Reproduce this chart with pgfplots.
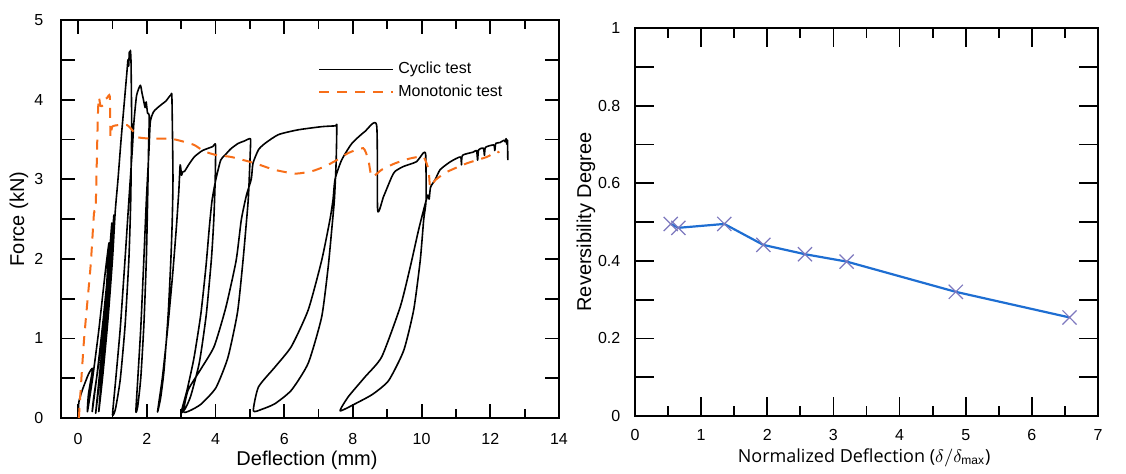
\documentclass[border=0pt]{standalone}
\usepackage{fontspec}
\setmainfont{Liberation Sans}
\newfontfamily\labelfont{Open Sans}
\usepackage{pgfplots}
\pgfplotsset{compat=1.18}
\definecolor{mono}{RGB}{247,110,25}
\definecolor{revline}{RGB}{30,110,210}
\definecolor{revmark}{RGB}{125,120,190}

\begin{document}
\begin{tikzpicture}
\useasboundingbox (0,0) rectangle (563pt,236.5pt);

% left: force vs deflection
\begin{axis}[
    at={(30.5pt,27.5pt)}, anchor=south west,
    scale only axis, width=249pt, height=199pt,
    xmin=-0.5, xmax=14, ymin=0, ymax=5,
    xtick={0,2,...,14}, minor x tick num=1,
    ytick={0,0.5,1,1.5,2,2.5,3,3.5,4,4.5,5},
    yticklabels={0,,1,,2,,3,,4,,5},
    major tick length=7pt, minor tick length=4.5pt,
    axis line style={line width=1pt},
    tick style={line width=0.9pt, black},
    /pgf/number format/assume math mode=true,
    ticklabel style={font=\fontsize{8}{9.6}\selectfont},
    xticklabel style={yshift=-4.3pt},
    yticklabel style={xshift=-5.3pt},
    xlabel={Deflection (mm)}, ylabel={Force (kN)},
    label style={font=\labelfont\fontsize{9.5}{11}\selectfont},
    every axis x label/.style={at={(axis description cs:0.494,-0.1055)}, anchor=center},
    every axis y label/.style={at={(axis description cs:-0.0843,0.5)}, rotate=90, anchor=center},
    legend style={draw=none, fill=none, at={(axis description cs:0.516,0.905)}, anchor=north west,
        font=\fontsize{8}{9.6}\selectfont, row sep=0pt, inner sep=0pt},
    legend cell align=left,
    legend image code/.code={\draw[#1] (0pt,0pt) -- (37pt,0pt);},
]
\addplot[black, line width=0.8pt, line join=round, smooth, tension=0.35] coordinates {
(0.0,0.0)(0.02,0.2)(0.12,0.35)(0.3,0.55)(0.42,0.62)(0.3,0.3)(0.27,0.08)
(0.42,0.5)(0.6,1.1)(0.78,1.8)(0.9,2.2)(0.8,1.5)(0.6,0.7)(0.45,0.25)(0.41,0.08)
(0.55,0.55)(0.72,1.2)(0.88,1.9)(0.98,2.45)(0.9,1.9)(0.75,1.1)(0.6,0.45)(0.51,0.06)
(0.63,0.5)(0.78,1.15)(0.93,1.9)(1.04,2.55)(0.97,2.0)(0.82,1.2)(0.68,0.5)(0.6,0.08)
(0.72,0.55)(0.87,1.25)(1.0,2.0)(1.08,2.6)(1.16,3.0)(1.25,3.5)(1.35,4.0)(1.42,4.35)
(1.45,4.5)(1.47,4.42)(1.49,4.6)(1.51,4.5)(1.52,4.62)(1.54,4.45)(1.56,3.62)
(1.55,3.4)(1.53,2.73)(1.476,1.99)(1.364,1.15)(1.224,0.48)(1.084,0.11)(1.0,0.04)
(1.084,0.44)(1.224,1.12)(1.364,1.99)(1.476,2.73)(1.58,3.4)(1.62,3.7)(1.7,4.05)
(1.81,4.18)(1.86,4.08)(1.9,4.0)(1.95,3.9)(1.98,3.97)(2.02,3.83)(2.07,3.8)
(2.05,3.4)(2.022,2.74)(1.986,2.01)(1.914,1.18)(1.824,0.51)(1.734,0.146)(1.68,0.08)
(1.734,0.48)(1.824,1.14)(1.914,2.01)(1.986,2.74)(2.06,3.35)(2.1,3.72)(2.2,3.85)
(2.4,3.93)(2.55,3.98)(2.7,4.06)(2.73,4.02)(2.76,3.03)
(2.74,2.5)(2.7,2.0)(2.62,1.3)(2.5,0.6)(2.4,0.25)(2.31,0.075)
(2.45,0.5)(2.6,1.1)(2.75,1.8)(2.86,2.4)(2.93,2.85)(2.97,3.18)(3.01,3.05)(3.04,3.09)
(3.1,3.1)(3.2,3.17)(3.38,3.28)(3.62,3.36)(3.92,3.41)(4.0,3.43)
(3.99,3.0)(3.95,2.5)(3.88,2.0)(3.73,1.3)(3.53,0.7)(3.28,0.28)(3.12,0.12)(3.0,0.07)
(3.17,0.35)(3.37,0.75)(3.57,1.3)(3.72,1.9)(3.82,2.4)(3.9,2.74)(4.01,3.0)(4.15,3.24)
(4.27,3.3)(4.44,3.38)(4.66,3.45)(4.84,3.48)(5.0,3.51)(5.02,3.45)
(4.96,2.8)(4.9,2.47)(4.8,1.98)(4.64,1.33)(4.36,0.76)(4.01,0.38)(3.58,0.175)(3.26,0.094)(3.07,0.08)
(3.2,0.35)(3.58,0.62)(3.96,0.9)(4.3,1.39)(4.6,1.98)(4.75,2.49)(4.9,2.8)(5.04,3.0)
(5.09,3.2)(5.25,3.37)(5.44,3.45)(5.83,3.56)(6.4,3.62)(7.09,3.66)(7.49,3.67)(7.53,3.67)
(7.51,3.2)(7.46,2.74)(7.39,2.4)(7.28,1.9)(7.09,1.27)(6.7,0.69)(6.21,0.35)(5.73,0.18)(5.35,0.11)(5.1,0.09)
(5.25,0.39)(5.73,0.64)(6.21,0.9)(6.7,1.36)(7.09,1.98)(7.33,2.49)(7.42,2.74)(7.48,3.0)
(7.67,3.24)(7.97,3.45)(8.35,3.6)(8.69,3.68)(8.72,2.61)(8.89,2.78)(9.13,3.03)(9.23,3.1)
(9.47,3.16)(9.85,3.22)(10.05,3.33)(10.12,3.3)
(10.13,2.74)(10.06,2.49)(9.96,1.98)(9.77,1.36)(9.48,0.85)(9.04,0.47)(8.58,0.3)(8.16,0.2)(7.63,0.09)
(7.87,0.27)(8.36,0.52)(8.84,0.77)(9.38,1.4)(9.67,1.9)(9.91,2.36)(10.08,2.65)(10.18,2.8)
(10.22,2.75)(10.26,2.9)(10.39,2.99)(10.54,3.12)(10.84,3.22)(11.13,3.28)(11.16,3.18)(11.19,3.3)
(11.5,3.34)(11.6,3.36)(11.63,3.24)(11.66,3.37)(11.8,3.39)(11.83,3.3)(11.86,3.4)(12.1,3.43)
(12.13,3.36)(12.16,3.45)(12.28,3.46)(12.4,3.49)(12.43,3.47)(12.46,3.51)(12.48,3.44)(12.5,3.49)(12.51,3.24)
};
\addlegendentry{Cyclic test}
\addplot[mono, line width=1pt, dash pattern=on 5pt off 4pt, smooth, tension=0.35] coordinates {
(0.02,0)(0.17,0.98)(0.36,1.9)(0.46,2.57)(0.51,2.65)(0.57,3.74)(0.6,4.03)(0.65,3.92)
(0.73,3.93)(0.76,4.0)(0.84,4.02)(0.92,4.04)(0.94,3.53)(0.99,3.66)(1.18,3.68)(1.42,3.68)
(1.57,3.62)(1.71,3.53)(2.1,3.51)(2.67,3.51)(3.0,3.48)(3.38,3.43)(3.67,3.35)(4.05,3.3)
(4.45,3.28)(5.15,3.2)(5.7,3.12)(6.32,3.07)(6.8,3.1)(7.18,3.16)(7.53,3.24)(7.87,3.33)
(8.3,3.39)(8.45,3.24)(8.55,3.03)(8.84,3.12)(9.23,3.2)(9.66,3.26)(10.05,3.28)(10.2,3.12)
(10.25,2.9)(10.4,2.99)(10.73,3.09)(11.32,3.2)(11.9,3.28)(12.2,3.35)(12.25,3.33)
};
\addlegendentry{Monotonic test}
\end{axis}

% right: reversibility degree
\begin{axis}[
    at={(317.5pt,28.5pt)}, anchor=south west,
    scale only axis, width=231.5pt, height=194pt,
    xmin=0, xmax=7, ymin=0, ymax=1,
    xtick={0,...,7}, minor x tick num=1,
    ytick={0,0.1,0.2,0.3,0.4,0.5,0.6,0.7,0.8,0.9,1},
    yticklabels={0,,0.2,,0.4,,0.6,,0.8,,1},
    major tick length=9.5pt, minor tick length=5pt,
    axis line style={line width=1pt},
    tick style={line width=0.9pt, black},
    /pgf/number format/assume math mode=true,
    ticklabel style={font=\fontsize{8}{9.6}\selectfont},
    xticklabel style={yshift=-3.3pt},
    yticklabel style={xshift=-3.8pt},
    xlabel={Normalized Deflection ($\delta/\delta_{\mathrm{max}}$)},
    ylabel={Reversibility Degree},
    label style={font=\labelfont\fontsize{9.5}{11}\selectfont},
    every axis x label/.style={at={(axis description cs:0.495,-0.108)}, anchor=center,
        font=\labelfont\fontsize{9}{11}\selectfont},
    every axis y label/.style={at={(axis description cs:-0.106,0.5)}, rotate=90, anchor=center},
]
\addplot[revline, line width=1.1pt, mark=x, mark size=5pt,
    mark options={revmark, line width=0.6pt}] coordinates {
(0.54,0.495)(0.655,0.485)(1.35,0.495)(1.94,0.441)(2.57,0.417)(3.20,0.398)(4.85,0.320)(6.57,0.254)
};
\end{axis}
\end{tikzpicture}
\end{document}
